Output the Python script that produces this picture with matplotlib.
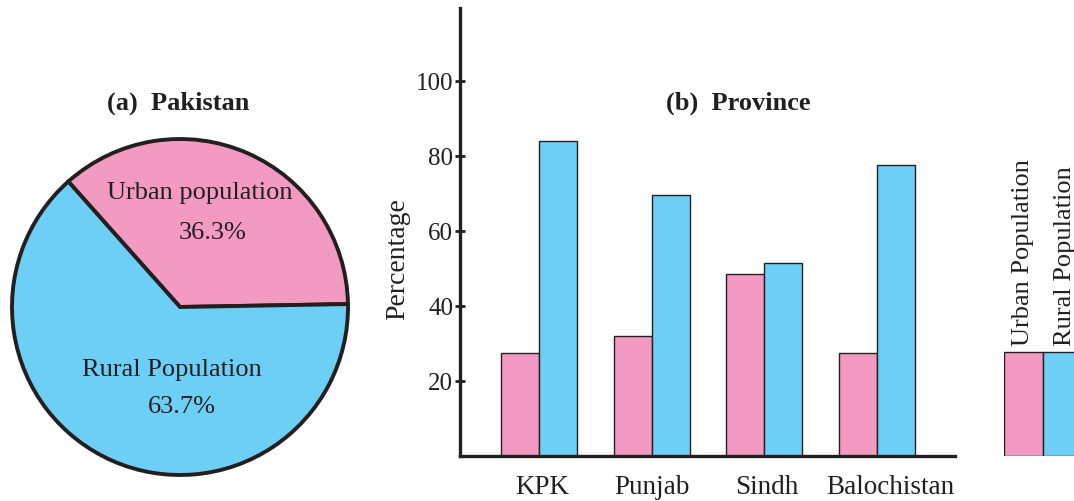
import matplotlib.pyplot as plt
from matplotlib.patches import Rectangle
import numpy as np

plt.rcParams['font.family'] = ['Liberation Serif', 'DejaVu Serif']

# national split (%)
pie_labels = ["Urban population", "Rural Population"]
pie_values = [36.3, 63.7]

# provincial split (%)
provinces = ["KPK", "Punjab", "Sindh", "Balochistan"]
urban = [27.5, 32.0, 48.5, 27.5]
rural = [84.0, 69.5, 51.5, 77.5]
yticks = [20, 40, 60, 80, 100]

PINK = "#F29AC1"
BLUE = "#6DCFF6"
EDGE = "#231F20"

W, H = 1074, 501
fig = plt.figure(figsize=(W / 100, H / 100), dpi=100)

def box(x0, y0, x1, y1):
    # pixel box (top-left origin) -> figure fraction rect
    return [x0 / W, 1 - y1 / H, (x1 - x0) / W, (y1 - y0) / H]

# ---- (a) pie ----
ax1 = fig.add_axes(box(12, 139, 348, 475))
ax1.pie(pie_values, colors=[PINK, BLUE], startangle=1.0, radius=1.0,
        wedgeprops=dict(edgecolor=EDGE, linewidth=2.8))
ax1.set_xlim(-1, 1)
ax1.set_ylim(-1, 1)
ax1.set_aspect('equal')
ax1.text(0.12, 0.68, pie_labels[0], ha='center', va='center', fontsize=19, color=EDGE)
ax1.text(0.196, 0.44, f"{pie_values[0]}%", ha='center', va='center', fontsize=19, color=EDGE)
ax1.text(-0.048, -0.375, pie_labels[1], ha='center', va='center', fontsize=19, color=EDGE)
ax1.text(0.012, -0.595, f"{pie_values[1]}%", ha='center', va='center', fontsize=19, color=EDGE)
fig.text(178 / W, 1 - 103 / H, "(a)  Pakistan", ha='center', va='center',
         fontsize=19, fontweight='bold', color=EDGE)

# ---- (b) grouped bars ----
ax2 = fig.add_axes(box(460, 8, 955, 456))
x = np.arange(len(provinces))
bw = 0.337
ax2.bar(x - bw / 2, urban, bw, color=PINK, edgecolor=EDGE, linewidth=1.0)
ax2.bar(x + bw / 2, rural, bw, color=BLUE, edgecolor=EDGE, linewidth=1.0)
ax2.set_xlim(-0.70, 3.69)
ax2.set_ylim(0, 119.5)
ax2.set_yticks(yticks)
ax2.set_xticks(x + np.array([0.03, 0, 0.02, 0.12]))
ax2.set_xticklabels(provinces, fontsize=19.5, color=EDGE)
ax2.tick_params(axis='x', length=0, pad=14)
ax2.tick_params(axis='y', direction='inout', length=7, width=2, labelsize=18,
                colors=EDGE, pad=1.5)
for s in ['top', 'right']:
    ax2.spines[s].set_visible(False)
for s in ['left', 'bottom']:
    ax2.spines[s].set_linewidth(2.4)
    ax2.spines[s].set_color(EDGE)
ax2.set_ylabel("Percentage", fontsize=20, color=EDGE)
ax2.yaxis.set_label_coords(-0.1, 0.44)
fig.text(738 / W, 1 - 103 / H, "(b)  Province", ha='center', va='center',
         fontsize=19, fontweight='bold', color=EDGE)

# ---- legend swatches with vertical labels ----
axl = fig.add_axes(box(1004, 140, 1082, 456))
axl.set_xlim(0, 78)
axl.set_ylim(0, 316)
axl.axis('off')
axl.add_patch(Rectangle((0, 0), 39, 104, facecolor=PINK, edgecolor=EDGE, linewidth=1.0))
axl.add_patch(Rectangle((39, 0), 39, 104, facecolor=BLUE, edgecolor=EDGE, linewidth=1.0))
axl.text(19.5, 110, "Urban Population", rotation=90, ha='center', va='bottom',
         fontsize=19, color=EDGE)
axl.text(61, 110, "Rural Population", rotation=90, ha='center', va='bottom',
         fontsize=19, color=EDGE)

fig.savefig("out.png", dpi=100)
